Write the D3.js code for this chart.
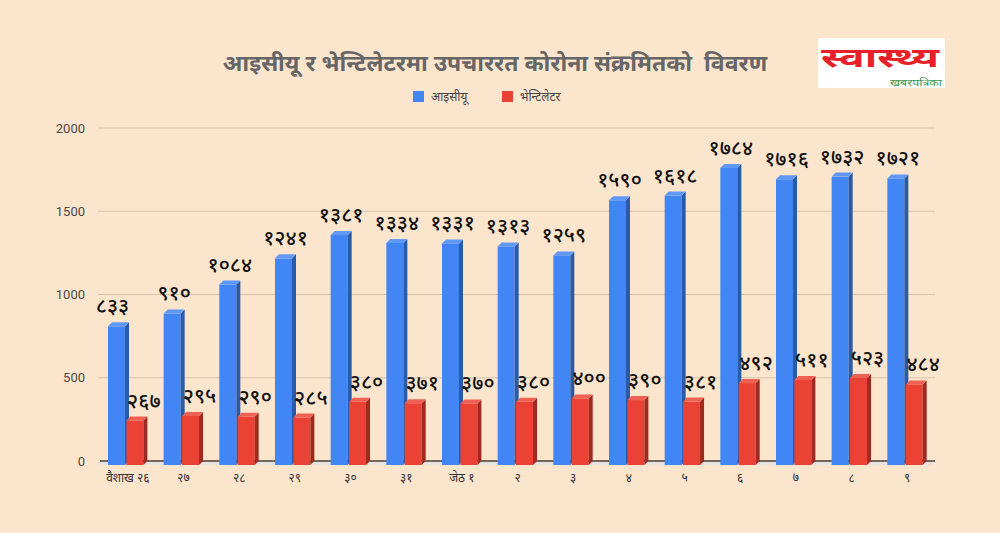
<!DOCTYPE html>
<html>
<head>
<meta charset="utf-8">
<script src="https://cdn.jsdelivr.net/npm/d3@7"></script>
<style>
  html, body { margin: 0; padding: 0; background: #fce5cd; }
  svg { display: block; }
</style>
</head>
<body>
<svg id="chart" width="1000" height="533"></svg>
<script>
width = 1000;
height = 533;

// data
categories = ['वैशाख २६', '२७', '२८', '२९', '३०', '३१', 'जेठ १', '२', '३', '४', '५', '६', '७', '८', '९'];
icu = [833, 910, 1084, 1241, 1381, 1334, 1331, 1313, 1259, 1590, 1618, 1784, 1716, 1732, 1721];
ventilator = [267, 295, 290, 285, 380, 371, 370, 380, 400, 390, 381, 492, 511, 523, 484];
seriesNames = ['आइसीयू', 'भेन्टिलेटर'];
yTicks = [0, 500, 1000, 1500, 2000];

colors = ['#4285f4', '#ea4335'];
sideColors = ['#2a5aa8', '#9e2a20'];
topColors = ['#5f98f6', '#ef6152'];

depth = 4;
barW = 17;

devDigits = '०१२३४५६७८९';
function toDev(n){
	return String(n).split('').map(c => devDigits[+c]).join('');
}

svg = d3.select('#chart');

x0 = d3.scaleBand().domain(categories).range([100, 935]);
x1 = d3.scaleBand().domain(seriesNames).range([10, 46]).paddingInner(0.04);
y = d3.scaleLinear().domain([0, 2000]).range([461, 128]);

// gridlines
svg.append('g').selectAll('line')
	.data(yTicks.filter(d => d > 0))
	.join('line')
		.attr('x1', 98)
		.attr('x2', 935)
		.attr('y1', d => y(d))
		.attr('y2', d => y(d))
		.attr('stroke', '#d8c3ad')
		.attr('stroke-width', 1.2);

// y labels
svg.append('g').selectAll('text')
	.data(yTicks)
	.join('text')
		.attr('x', 85)
		.attr('y', d => y(d) + 4.5)
		.attr('text-anchor', 'end')
		.attr('font-family', 'Roboto, Arial, sans-serif')
		.attr('font-size', 13)
		.attr('fill', '#4a4a4a')
		.text(d => d);

// floor
svg.append('polygon')
	.attr('points', `100,${y(0)} 935,${y(0)} ${935 - depth},${y(0) + depth} ${100 - depth},${y(0) + depth}`)
	.attr('fill', '#e6e3e0');

svg.append('line')
	.attr('x1', 100).attr('x2', 935)
	.attr('y1', y(0)).attr('y2', y(0))
	.attr('stroke', '#4a3f36')
	.attr('stroke-width', 1.5);

// bars
series = [icu, ventilator];
bars = [];
categories.forEach((c, i) => {
	series.forEach((s, j) => bars.push({cat: c, s: j, v: s[i]}));
});

barG = svg.append('g').selectAll('g')
	.data(bars)
	.join('g');

barG.each(function(d){
	const g = d3.select(this);
	const bx = x0(d.cat) + x1(seriesNames[d.s]) - depth / 2;
	const yt = y(d.v) + depth;
	const yb = y(0) + depth;
	g.append('rect')
		.attr('x', bx)
		.attr('y', yt)
		.attr('width', barW)
		.attr('height', yb - yt)
		.attr('fill', colors[d.s]);
	g.append('polygon')
		.attr('points', `${bx + barW},${yt} ${bx + barW + depth},${yt - depth} ${bx + barW + depth},${yb - depth} ${bx + barW},${yb}`)
		.attr('fill', sideColors[d.s]);
	g.append('polygon')
		.attr('points', `${bx},${yt} ${bx + depth},${yt - depth} ${bx + barW + depth},${yt - depth} ${bx + barW},${yt}`)
		.attr('fill', topColors[d.s]);
	g.append('text')
		.attr('x', bx + barW / 2 + depth / 2 + (d.s == 1 ? 7 : 0) - (d.cat == categories[0] && d.s == 0 ? 6 : 0))
		.attr('y', yt - depth - 9)
		.attr('text-anchor', 'middle')
		.attr('font-family', '"Noto Sans", sans-serif')
		.attr('font-size', 21)
		.attr('font-weight', 500)
		.attr('fill', '#111')
		.text(toDev(d.v));
});

// x labels
svg.append('g').selectAll('text')
	.data(categories)
	.join('text')
		.attr('x', d => x0(d) + x0.bandwidth() / 2)
		.attr('y', 482)
		.attr('text-anchor', 'middle')
		.attr('font-family', '"Noto Sans", sans-serif')
		.attr('font-size', 12)
		.attr('fill', '#333')
		.text(d => d);

// title
svg.append('text')
	.attr('x', 495)
	.attr('y', 71)
	.attr('text-anchor', 'middle')
	.attr('font-family', '"Noto Sans", sans-serif')
	.attr('font-size', 23)
	.attr('font-weight', 'bold')
	.attr('fill', '#666')
	.style('white-space', 'pre')
	.text('आइसीयू र भेन्टिलेटरमा उपचाररत कोरोना संक्रमितको  विवरण');

// legend
legendX = [413, 502];
leg = svg.append('g').selectAll('g')
	.data(seriesNames)
	.join('g')
		.attr('transform', (d, i) => `translate(${legendX[i]}, 91)`);
leg.append('rect')
	.attr('width', 11).attr('height', 11)
	.attr('fill', (d, i) => colors[i]);
leg.append('text')
	.attr('x', 18)
	.attr('y', 10)
	.attr('font-family', '"Noto Sans", sans-serif')
	.attr('font-size', 12)
	.attr('font-style', 'italic')
	.attr('fill', '#444')
	.text(d => d);

// logo
logo = svg.append('g').attr('transform', 'translate(818, 38)');
logo.append('rect')
	.attr('width', 127).attr('height', 50)
	.attr('fill', '#fff');
logo.append('text')
	.attr('x', 3).attr('y', 29)
	.attr('textLength', 118)
	.attr('lengthAdjust', 'spacingAndGlyphs')
	.attr('font-family', '"Noto Sans", sans-serif')
	.attr('font-size', 27)
	.attr('font-weight', 'bold')
	.attr('fill', '#e8202a')
	.text('स्वास्थ्य');
logo.append('text')
	.attr('x', 72).attr('y', 48)
	.attr('textLength', 52)
	.attr('lengthAdjust', 'spacingAndGlyphs')
	.attr('font-family', '"Noto Sans", sans-serif')
	.attr('font-size', 9)
	.attr('fill', '#3c9a4c')
	.text('खबरपत्रिका');
</script>
</body>
</html>
